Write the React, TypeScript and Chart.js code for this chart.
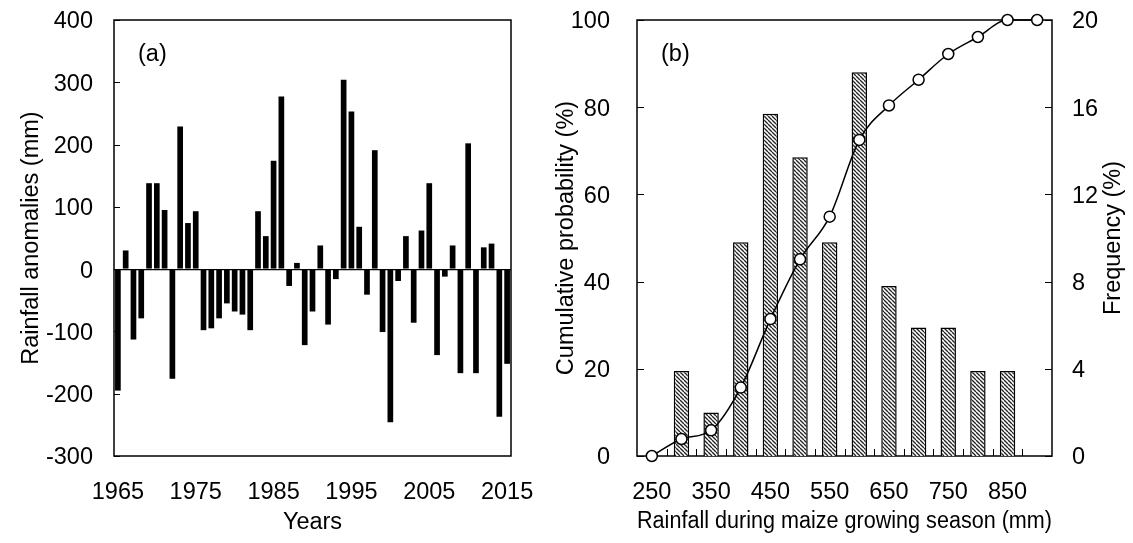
import React, { useEffect, useRef } from 'react';
import { Chart, registerables } from 'chart.js';

Chart.register(...registerables);

const FONT_FAMILY = '"Liberation Sans", Arial, Helvetica, sans-serif';
const FS = 23.5;

// Panel (a): rainfall anomalies by year
const years = [
  '1965', '1966', '1967', '1968', '1969', '1970', '1971', '1972', '1973', '1974',
  '1975', '1976', '1977', '1978', '1979', '1980', '1981', '1982', '1983', '1984',
  '1985', '1986', '1987', '1988', '1989', '1990', '1991', '1992', '1993', '1994',
  '1995', '1996', '1997', '1998', '1999', '2000', '2001', '2002', '2003', '2004',
  '2005', '2006', '2007', '2008', '2009', '2010', '2011', '2012', '2013', '2014',
  '2015',
];
const anomalies = [
  -195, 30, -113, -79, 138, 138, 95, -176, 229, 74,
  93, -98, -95, -79, -55, -68, -73, -98, 93, 53,
  174, 277, -27, 10, -122, -68, 38, -89, -16, 304,
  253, 68, -41, 191, -101, -246, -19, 53, -86, 62,
  138, -138, -12, 38, -167, 202, -167, 35, 41, -237,
  -152,
];

// Panel (b): rainfall distribution
const rainfallBins = ['250', '300', '350', '400', '450', '500', '550', '600', '650', '700', '750', '800', '850', '900'];
const frequency = [null, 3.9, 2.0, 9.8, 15.7, 13.7, 9.8, 17.6, 7.8, 5.9, 5.9, 3.9, 3.9, null];
const cumulative = [0, 3.9, 5.9, 15.7, 31.4, 45.1, 54.9, 72.5, 80.4, 86.3, 92.2, 96.1, 100, 100];

const font = { family: FONT_FAMILY, size: FS };

function makeHatch(): CanvasPattern | string {
  const s = 4;
  const c = document.createElement('canvas');
  c.width = s;
  c.height = s;
  const g = c.getContext('2d');
  if (!g) return '#888';
  g.fillStyle = '#ffffff';
  g.fillRect(0, 0, s, s);
  g.strokeStyle = '#222222';
  g.lineWidth = 1.35;
  g.beginPath();
  for (const k of [-1, 0, 1]) {
    g.moveTo(0, k * s);
    g.lineTo(s, k * s + s);
  }
  g.stroke();
  return g.createPattern(c, 'repeat') || '#888';
}

const fitY = (w: number) => (s: any) => {
  s.width = w;
  s.paddingTop = 0;
  s.paddingBottom = 0;
};
const fitX = (h: number) => (s: any) => {
  s.height = h;
  s.paddingLeft = 0;
  s.paddingRight = 0;
};

const boxPluginA = {
  id: 'boxA',
  afterDraw(chart: any) {
    const { ctx, chartArea } = chart;
    const ys = chart.scales.y;
    ctx.save();
    ctx.strokeStyle = '#000';
    ctx.lineWidth = 1.5;
    ctx.strokeRect(chartArea.left, chartArea.top, chartArea.right - chartArea.left, chartArea.bottom - chartArea.top);
    ctx.lineWidth = 1;
    ctx.beginPath();
    for (const t of ys.ticks) {
      const y = Math.round(ys.getPixelForValue(t.value)) + 0.5;
      ctx.moveTo(chartArea.left, y);
      ctx.lineTo(chartArea.left + 6, y);
    }
    ctx.stroke();
    ctx.fillStyle = '#000';
    ctx.font = `${FS}px ${FONT_FAMILY}`;
    ctx.textAlign = 'left';
    ctx.textBaseline = 'middle';
    ctx.fillText('(a)', chartArea.left + 24, 55);
    ctx.restore();
  },
};

const boxPluginB = {
  id: 'boxB',
  beforeDatasetsDraw(chart: any) {
    const { ctx, chartArea } = chart;
    const ys = chart.scales.y;
    const ys1 = chart.scales.y1;
    const xs = chart.scales.x;
    ctx.save();
    ctx.strokeStyle = '#000';
    ctx.lineWidth = 1.5;
    ctx.strokeRect(chartArea.left, chartArea.top, chartArea.right - chartArea.left, chartArea.bottom - chartArea.top);
    ctx.lineWidth = 1;
    ctx.beginPath();
    for (const t of ys.ticks) {
      const y = Math.round(ys.getPixelForValue(t.value)) + 0.5;
      ctx.moveTo(chartArea.left, y);
      ctx.lineTo(chartArea.left + 7, y);
    }
    for (const t of ys1.ticks) {
      const y = Math.round(ys1.getPixelForValue(t.value)) + 0.5;
      ctx.moveTo(chartArea.right, y);
      ctx.lineTo(chartArea.right - 7, y);
    }
    for (let i = 1; i < rainfallBins.length; i++) {
      const x = Math.round((xs.getPixelForValue(i - 1) + xs.getPixelForValue(i)) / 2) + 0.5;
      ctx.moveTo(x, chartArea.bottom);
      ctx.lineTo(x, chartArea.bottom - 7);
    }
    ctx.stroke();
    ctx.restore();
  },
  afterDraw(chart: any) {
    const { ctx, chartArea } = chart;
    ctx.save();
    ctx.fillStyle = '#000';
    ctx.font = `${FS}px ${FONT_FAMILY}`;
    ctx.textAlign = 'left';
    ctx.textBaseline = 'middle';
    ctx.fillText('(b)', chartArea.left + 24, 55);
    ctx.translate(574, (chartArea.top + chartArea.bottom) / 2);
    ctx.rotate(-Math.PI / 2);
    ctx.textAlign = 'center';
    ctx.fillText('Frequency (%)', 0, 0);
    ctx.restore();
  },
};

export default function App() {
  const refA = useRef<HTMLCanvasElement>(null);
  const refB = useRef<HTMLCanvasElement>(null);

  useEffect(() => {
    Chart.defaults.color = '#000';
    Chart.defaults.font.family = FONT_FAMILY;

    const chartA = new Chart(refA.current as HTMLCanvasElement, {
      type: 'bar',
      data: {
        labels: years,
        datasets: [
          {
            data: anomalies,
            backgroundColor: '#000',
            borderWidth: 0,
            barPercentage: 0.73,
            categoryPercentage: 1,
          },
        ],
      },
      options: {
        animation: false,
        responsive: false,
        maintainAspectRatio: false,
        layout: { padding: { left: 0, right: 49, top: 20, bottom: 0 } },
        plugins: { legend: { display: false }, tooltip: { enabled: false } },
        scales: {
          x: {
            grid: { display: false, drawTicks: false },
            border: { display: false },
            ticks: {
              autoSkip: false,
              maxRotation: 0,
              minRotation: 0,
              padding: 22,
              font,
              color: '#000',
              callback: function (this: any, val: any, idx: number) {
                return idx % 10 === 0 ? this.getLabelForValue(val) : '';
              },
            },
            title: { display: true, text: 'Years', font, color: '#000', padding: { top: 0, bottom: 6 } },
            afterFit: fitX(87),
          },
          y: {
            min: -300,
            max: 400,
            ticks: { stepSize: 100, padding: 21, labelOffset: 2, font, color: '#000' },
            grid: {
              drawTicks: false,
              color: (ctx: any) => (ctx.tick && ctx.tick.value === 0 ? '#000' : 'rgba(0,0,0,0)'),
              lineWidth: 1.2,
            },
            border: { display: false },
            title: {
              display: true,
              text: 'Rainfall anomalies (mm)',
              font,
              color: '#000',
              padding: { top: 17, bottom: 0 },
            },
            afterFit: fitY(114),
          },
        },
      } as any,
      plugins: [boxPluginA],
    });

    const hatch = makeHatch();

    const chartB = new Chart(refB.current as HTMLCanvasElement, {
      type: 'bar',
      data: {
        labels: rainfallBins,
        datasets: [
          {
            type: 'line',
            data: cumulative,
            yAxisID: 'y',
            borderColor: '#000',
            borderWidth: 1.5,
            pointRadius: 5.5,
            pointBackgroundColor: '#fff',
            pointBorderColor: '#000',
            pointBorderWidth: 1.5,
            cubicInterpolationMode: 'monotone',
            clip: false,
            order: 0,
          },
          {
            type: 'bar',
            data: frequency,
            yAxisID: 'y1',
            backgroundColor: hatch,
            borderColor: '#000',
            borderWidth: 1.5,
            barPercentage: 0.52,
            categoryPercentage: 1,
            order: 1,
          },
        ],
      } as any,
      options: {
        animation: false,
        responsive: false,
        maintainAspectRatio: false,
        layout: { padding: { left: 0, right: 0, top: 20, bottom: 0 } },
        plugins: { legend: { display: false }, tooltip: { enabled: false } },
        scales: {
          x: {
            offset: true,
            grid: { display: false, drawTicks: false },
            border: { display: false },
            ticks: {
              autoSkip: false,
              maxRotation: 0,
              minRotation: 0,
              padding: 22,
              font,
              color: '#000',
              callback: function (this: any, val: any, idx: number) {
                return idx % 2 === 0 ? this.getLabelForValue(val) : '';
              },
            },
            title: {
              display: true,
              text: 'Rainfall during maize growing season (mm)',
              font,
              color: '#000',
              padding: { top: 0, bottom: 7 },
            },
            afterFit: fitX(87),
          },
          y: {
            position: 'left',
            min: 0,
            max: 100,
            ticks: { stepSize: 20, padding: 27, labelOffset: 2, font, color: '#000' },
            grid: { display: false, drawTicks: false },
            border: { display: false },
            title: {
              display: true,
              text: 'Cumulative probability (%)',
              font,
              color: '#000',
              padding: { top: 12, bottom: 0 },
            },
            afterFit: fitY(97),
          },
          y1: {
            position: 'right',
            min: 0,
            max: 20,
            ticks: { stepSize: 4, padding: 20, labelOffset: 2, font, color: '#000' },
            grid: { display: false, drawTicks: false },
            border: { display: false },
            afterFit: fitY(81),
          },
        },
      } as any,
      plugins: [boxPluginB],
    });

    return () => {
      chartA.destroy();
      chartB.destroy();
    };
  }, []);

  return (
    <div style={{ position: 'fixed', left: 0, top: 0, width: 1133, height: 543, background: '#fff' }}>
      <canvas ref={refA} width={560} height={543} style={{ position: 'absolute', left: 0, top: 0 }} />
      <canvas ref={refB} width={593} height={543} style={{ position: 'absolute', left: 540, top: 0 }} />
    </div>
  );
}
